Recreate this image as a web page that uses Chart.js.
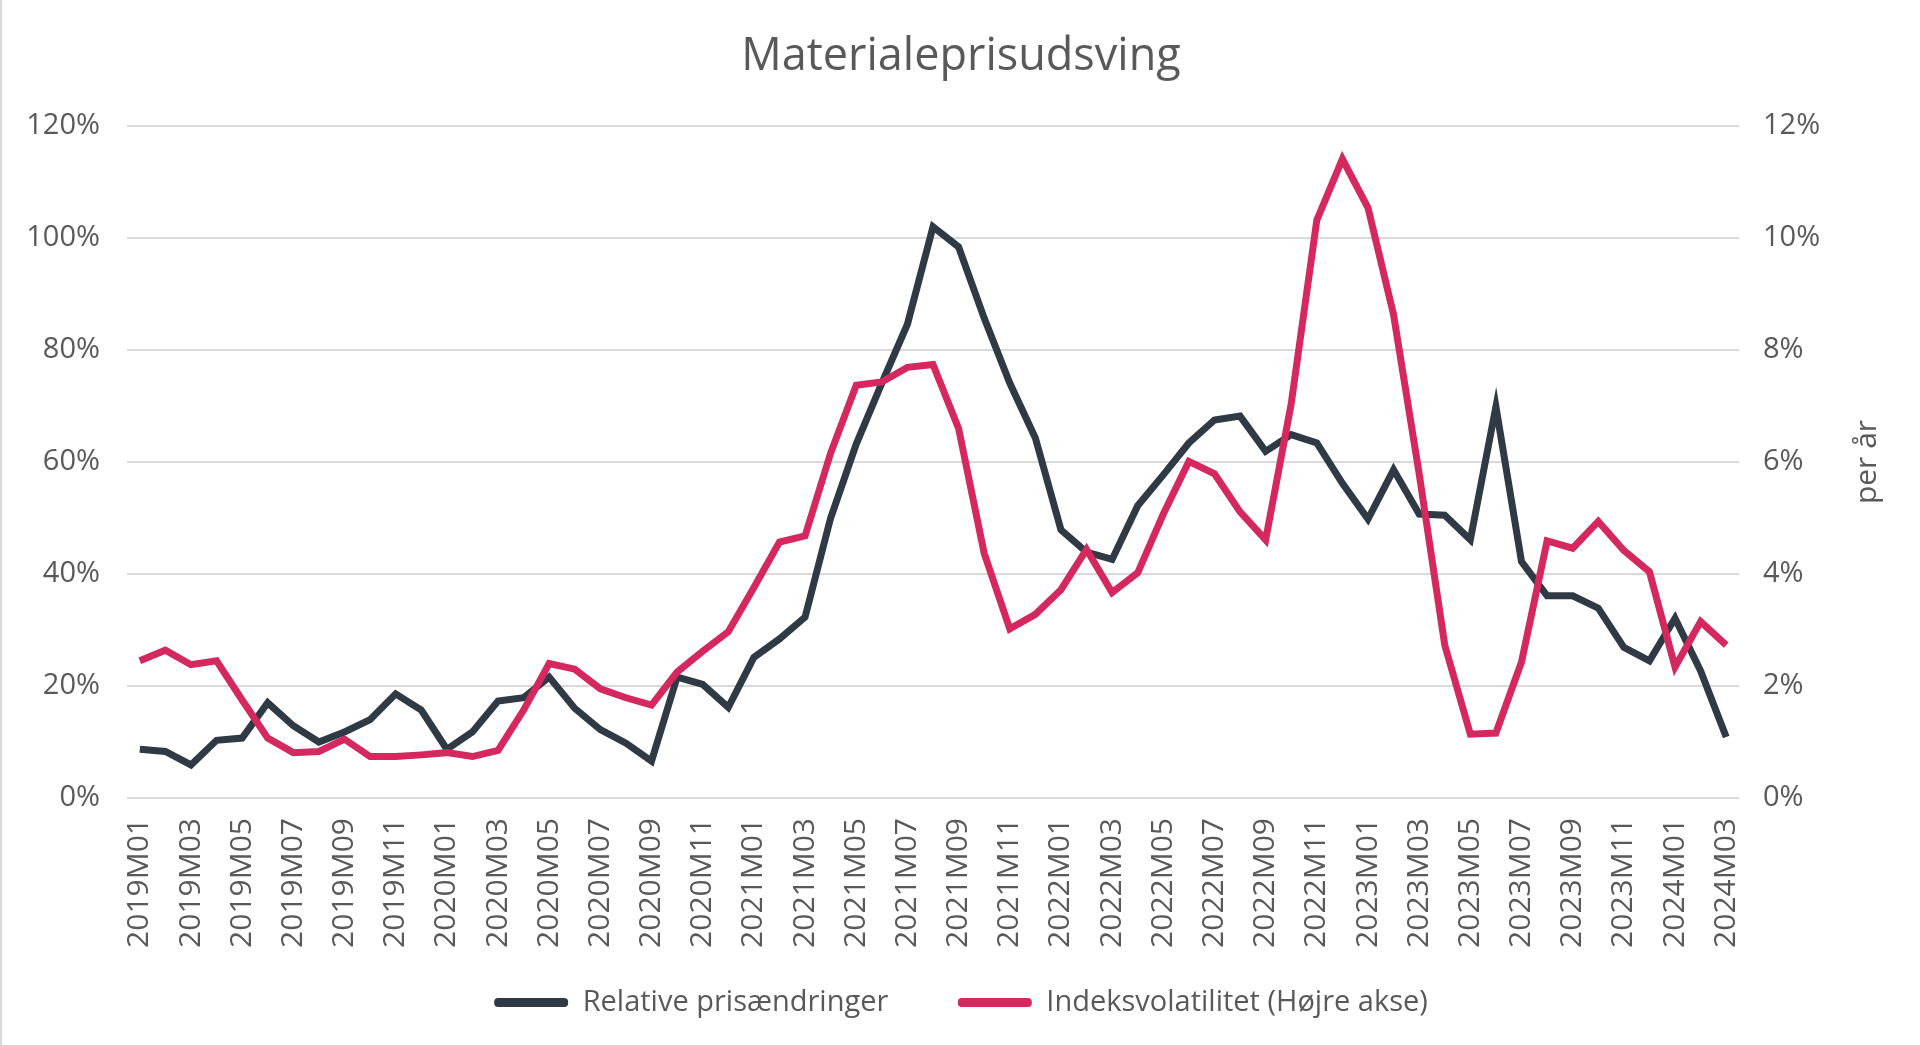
<!DOCTYPE html>
<html>
<head>
<meta charset="utf-8">
<script src="https://cdn.jsdelivr.net/npm/chart.js@4.4.1/dist/chart.umd.min.js"></script>
<style>
  html, body { margin: 0; padding: 0; background: #fff; }
  #wrap { width: 1920px; height: 1045px; position: relative; border-left: 2px solid #d9d9d9; box-sizing: border-box; }
  canvas { display: block; }
</style>
</head>
<body>
<div id="wrap"><canvas id="lineChart" width="1918" height="1045"></canvas></div>
<script>
// ==============================
// DATA
// ==============================
const months = [
  '2019M01','2019M02','2019M03','2019M04','2019M05','2019M06','2019M07','2019M08','2019M09','2019M10','2019M11','2019M12',
  '2020M01','2020M02','2020M03','2020M04','2020M05','2020M06','2020M07','2020M08','2020M09','2020M10','2020M11','2020M12',
  '2021M01','2021M02','2021M03','2021M04','2021M05','2021M06','2021M07','2021M08','2021M09','2021M10','2021M11','2021M12',
  '2022M01','2022M02','2022M03','2022M04','2022M05','2022M06','2022M07','2022M08','2022M09','2022M10','2022M11','2022M12',
  '2023M01','2023M02','2023M03','2023M04','2023M05','2023M06','2023M07','2023M08','2023M09','2023M10','2023M11','2023M12',
  '2024M01','2024M02','2024M03'
];

// venstre akse, %
const relativePrice = [
  8.7, 8.3, 5.9, 10.3, 10.7, 17.0, 12.9, 10.0, 11.8, 14.0, 18.6, 15.7,
  8.7, 11.8, 17.3, 17.9, 21.6, 16.0, 12.2, 9.8, 6.6, 21.6, 20.3, 16.2,
  25.1, 28.4, 32.3, 50.0, 63.2, 74.1, 84.6, 102.0, 98.4, 85.7, 74.1, 64.3,
  47.9, 43.9, 42.6, 52.2, 57.7, 63.4, 67.5, 68.2, 61.9, 64.9, 63.4, 56.2,
  49.8, 58.6, 50.7, 50.5, 46.1, 69.9, 42.2, 36.1, 36.1, 33.9, 26.9, 24.5,
  32.1, 22.7, 10.9
];

// højre akse, % per år
const indexVolatility = [
  2.45, 2.64, 2.38, 2.45, 1.75, 1.07, 0.81, 0.83, 1.05, 0.74, 0.74, 0.77,
  0.81, 0.74, 0.85, 1.57, 2.40, 2.30, 1.95, 1.79, 1.66, 2.25, 2.62, 2.97,
  3.76, 4.57, 4.68, 6.16, 7.37, 7.43, 7.69, 7.74, 6.60, 4.37, 3.02, 3.28,
  3.72, 4.44, 3.67, 4.02, 5.07, 6.01, 5.79, 5.11, 4.61, 7.04, 10.32, 11.41,
  10.54, 8.63, 5.79, 2.73, 1.14, 1.16, 2.43, 4.59, 4.46, 4.94, 4.42, 4.04,
  2.34, 3.15, 2.73
];

const leftTicks = [0, 20, 40, 60, 80, 100, 120];
const rightTicks = [0, 2, 4, 6, 8, 10, 12];

const chartTitle = 'Materialeprisudsving';
const seriesNames = ['Relative prisændringer', 'Indeksvolatilitet (Højre akse)'];
const rightAxisTitle = 'per år';

const DARK = '#2f3a44';
const PINK = '#d4285f';
const TEXT = '#595959';
const GRID = '#d9d9d9';
const FONT = "'Open Sans', 'DejaVu Sans', sans-serif";

// ==============================
// "per år" læses nedefra og op
// ==============================
const rightTitlePlugin = {
  id: 'rightTitle',
  afterDraw(chart) {
    const s = chart.scales.y1;
    const ctx = chart.ctx;
    ctx.save();
    ctx.translate(s.left + 128, (s.top + s.bottom) / 2);
    ctx.rotate(-Math.PI / 2);
    ctx.font = '30px ' + FONT;
    ctx.fillStyle = TEXT;
    ctx.textAlign = 'center';
    ctx.textBaseline = 'middle';
    ctx.fillText(rightAxisTitle, 0, 0);
    ctx.restore();
  }
};

Chart.defaults.devicePixelRatio = 1;
Chart.defaults.font.family = FONT;
Chart.defaults.color = TEXT;

const line = new Chart(document.getElementById('lineChart'), {
  type: 'line',
  data: {
    labels: months,
    datasets: [
      {
        label: seriesNames[0],
        data: relativePrice,
        yAxisID: 'y',
        borderColor: DARK,
        backgroundColor: DARK,
        borderWidth: 7,
        pointRadius: 0,
        tension: 0,
        order: 2
      },
      {
        label: seriesNames[1],
        data: indexVolatility,
        yAxisID: 'y1',
        borderColor: PINK,
        backgroundColor: PINK,
        borderWidth: 7,
        pointRadius: 0,
        tension: 0,
        order: 1
      }
    ]
  },
  options: {
    responsive: false,
    animation: false,
    layout: { padding: { left: 0, right: 0, top: 0, bottom: 18 } },
    plugins: {
      title: {
        display: true,
        text: chartTitle,
        color: TEXT,
        font: { size: 45, weight: 'normal' },
        padding: { top: 30, bottom: 42 }
      },
      legend: {
        position: 'bottom',
        labels: {
          color: TEXT,
          font: { size: 29 },
          boxWidth: 74,
          boxHeight: 9,
          useBorderRadius: true,
          borderRadius: 4,
          padding: 26,
          sort: (a, b) => a.datasetIndex - b.datasetIndex,
          // lidt ekstra luft efter første post, som i originalen
          generateLabels: chart =>
            Chart.defaults.plugins.legend.labels.generateLabels(chart)
              .map(l => ({ ...l, lineWidth: 0, text: l.datasetIndex === 0 ? l.text + '\u2003\u2002' : l.text }))
        }
      },
      tooltip: { enabled: false }
    },
    scales: {
      x: {
        offset: true,
        afterFit: s => { s.height = 164; },
        grid: { display: false, drawTicks: false },
        border: { display: false },
        ticks: {
          autoSkip: false,
          maxRotation: 90,
          minRotation: 90,
          padding: 20,
          color: TEXT,
          font: { size: 30 },
          callback: (v, i) => (i % 2 === 0 ? months[i] : '')
        }
      },
      y: {
        position: 'left',
        min: 0,
        max: 120,
        afterBuildTicks: s => { s.ticks = leftTicks.map(v => ({ value: v })); },
        afterFit: s => { s.width = 125; },
        grid: { color: GRID, lineWidth: 2, drawTicks: false },
        border: { display: false },
        ticks: {
          padding: 27,
          color: TEXT,
          font: { size: 29 },
          callback: v => v + '%'
        }
      },
      y1: {
        position: 'right',
        min: 0,
        max: 12,
        afterBuildTicks: s => { s.ticks = rightTicks.map(v => ({ value: v })); },
        afterFit: s => { s.width = 181; },
        grid: { display: false, drawTicks: false },
        border: { display: false },
        ticks: {
          padding: 24,
          color: TEXT,
          font: { size: 29 },
          callback: v => v + '%'
        }
      }
    }
  },
  plugins: [rightTitlePlugin]
});
</script>
</body>
</html>
